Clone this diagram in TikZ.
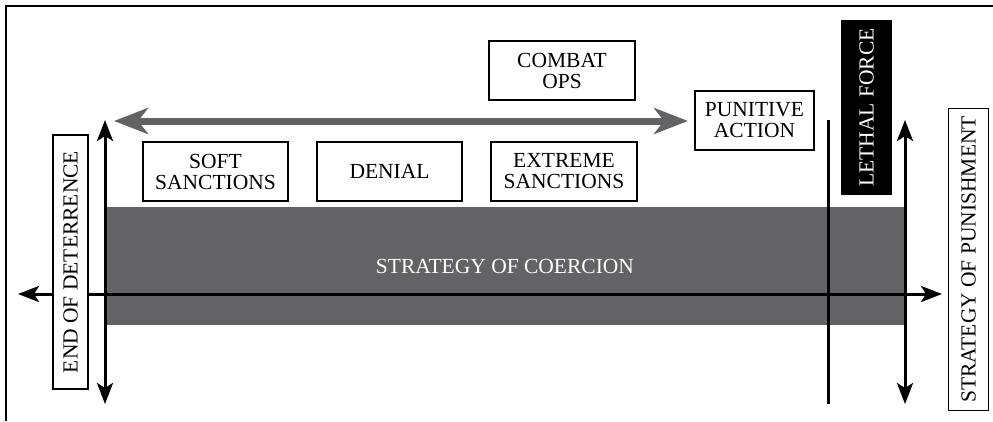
\documentclass[tikz,border=0pt]{standalone}
\usepackage{fontspec}
\newfontfamily\diagfont{Liberation Serif}
\usetikzlibrary{arrows.meta}

\definecolor{bandgray}{RGB}{99,99,102}

\begin{document}
\begin{tikzpicture}[x=1pt,y=-1pt,
  txt/.style={font=\diagfont\fontsize{21.5}{21}\selectfont},
  box/.style={txt,draw=black,line width=1.8pt,fill=white,align=center,inner sep=0pt,minimum height=59pt},
  sidebox/.style={txt,draw=black,line width=1.8pt,fill=white,inner sep=0pt,rotate=90},
  axis/.style={line width=3pt,-{Stealth[length=21pt,width=16pt,inset=5pt]}},
  twoway/.style={line width=3pt,{Stealth[length=21pt,width=16pt,inset=5pt]}-{Stealth[length=21pt,width=16pt,inset=5pt]}}]
\useasboundingbox (0,0) rectangle (993,421);

% frame
\draw[line width=2.6pt] (6,421) -- (6,6) -- (993,6);

% band
\node[fill=bandgray,txt,text=white,minimum width=800pt,minimum height=118pt,inner sep=0pt] (band) at (505,266) {STRATEGY OF COERCION};

% axis
\coordinate (axL) at (18,294);
\coordinate (axR) at (942,294);
\draw[axis] (105,294) -- (axL);
\draw[axis] (105,294) -- (axR);

% verticals
\coordinate (vLt) at (105,120);
\coordinate (vLb) at (105,404);
\coordinate (vMt) at (828,120);
\coordinate (vMb) at (828,404);
\coordinate (vRt) at (905,120);
\coordinate (vRb) at (905,404);
\draw[twoway] (vLt) -- (vLb);
\draw[line width=3pt] (vMt) -- (vMb);
\draw[twoway] (vRt) -- (vRb);

% gray range arrow
\coordinate (rngL) at (114,121);
\coordinate (rngR) at (688,121);
\draw[bandgray,line width=7pt,{Stealth[length=34pt,width=26pt,inset=10pt]}-{Stealth[length=34pt,width=26pt,inset=10pt]}] (rngL) -- (rngR);

% boxes
\node[box,minimum width=145pt] (soft) at (215.5,171.5) {SOFT\\SANCTIONS};
\node[box,minimum width=145pt] (denial) at (389.5,171.5) {DENIAL};
\node[box,minimum width=146pt] (extreme) at (564,171.5) {EXTREME\\SANCTIONS};
\node[box,minimum width=146pt] (combat) at (562,70.5) {COMBAT\\OPS};
\node[box,minimum width=119pt] (punitive) at (754.5,120.5) {PUNITIVE\\ACTION};
\node[txt,fill=black,text=white,rotate=90,inner sep=0pt,minimum width=175pt,minimum height=51pt] (lethal) at (866.5,107.5) {LETHAL FORCE};
\node[sidebox,minimum width=254pt,minimum height=35pt] (enddet) at (70.5,262) {END OF DETERRENCE};
\node[sidebox,minimum width=302pt,minimum height=40pt] (punish) at (968.5,259.5) {STRATEGY OF PUNISHMENT};
\end{tikzpicture}
\end{document}
